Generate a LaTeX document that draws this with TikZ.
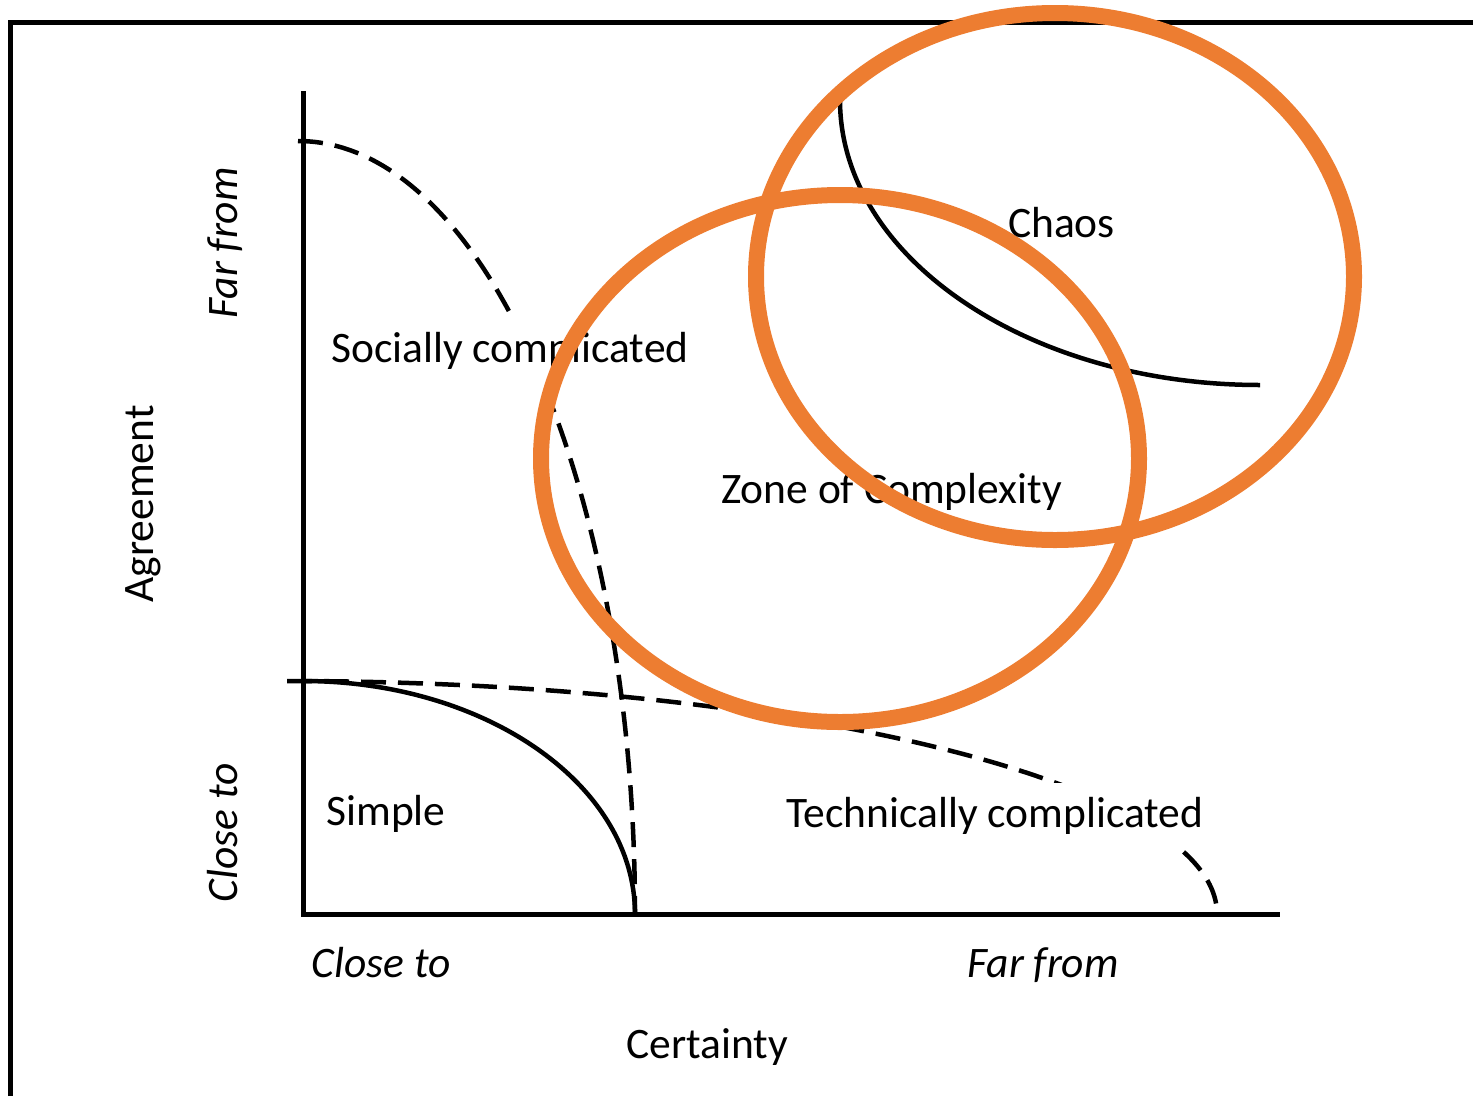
\documentclass[tikz,border=0pt]{standalone}
\usepackage{fontspec}
\setmainfont{Carlito}
\begin{document}
\begin{tikzpicture}[x=1pt,y=-1pt,
  lbl/.style={font=\fontsize{43.5}{52}\selectfont, inner sep=0pt, anchor=base},
  ilbl/.style={lbl, font=\fontsize{43.5}{52}\selectfont\itshape},
  masked/.style={fill=white, inner sep=14pt},
  frameline/.style={line width=5pt},
  axisline/.style={line width=5pt},
  curve/.style={line width=4.5pt},
  dcurve/.style={line width=4.5pt, dash pattern=on 25pt off 12pt},
  zone/.style={draw=zoneorange, line width=16pt}]
\definecolor{zoneorange}{HTML}{ED7D31}
\useasboundingbox (0,0) rectangle (1473,1096);
% outer frame
\coordinate (fbl) at (10,1096);
\coordinate (ftl) at (10,22);
\coordinate (ftr) at (1473,22);
\draw[frameline] (fbl) -- (ftl) -- (ftr);
% axes
\coordinate (ytop) at (303,93);
\coordinate (orig) at (303,914);
\coordinate (xend) at (1277,914);
\draw[axisline, line cap=rect] (ytop) -- (orig) -- (xend);
% boundary curves
\coordinate (sA) at (298,141);
\coordinate (sB) at (287,681);
\coordinate (sS) at (303,681);
\coordinate (sC) at (840,100);
\draw[dcurve] (sA) arc[start angle=90, end angle=0, x radius=337pt, y radius=773pt];
\draw[dcurve] (sB) arc[start angle=90, end angle=0, x radius=930pt, y radius=233pt];
\draw[curve] (sS) arc[start angle=90, end angle=0, x radius=332pt, y radius=233pt];
\draw[curve] (sC) arc[start angle=180, end angle=270, x radius=420pt, y radius=285pt];
% region labels
\node[lbl, masked] (soc) at (510,362) {Socially complicated};
\node[lbl, masked] (tech) at (995,827) {Technically complicated};
\node[lbl] (simple) at (386,825) {Simple};
\node[lbl] (zone) at (891.5,503) {Zone of Complexity};
% axis labels
\node[ilbl, rotate=90] (yfar) at (237,243) {Far from};
\node[lbl, rotate=90] (yagr) at (153,504) {Agreement};
\node[ilbl, rotate=90] (yclose) at (237,833) {Close to};
\node[ilbl] (xclose) at (381,977) {Close to};
\node[ilbl] (xfar) at (1043,977) {Far from};
\node[lbl] (xcert) at (707,1058) {Certainty};
% orange zones
\draw[zone] (1055,276.5) ellipse[x radius=299pt, y radius=263.5pt];
\draw[zone] (840,458.5) ellipse[x radius=299pt, y radius=263.5pt];
\node[lbl] (chaos) at (1061.5,237) {Chaos};
\end{tikzpicture}
\end{document}
